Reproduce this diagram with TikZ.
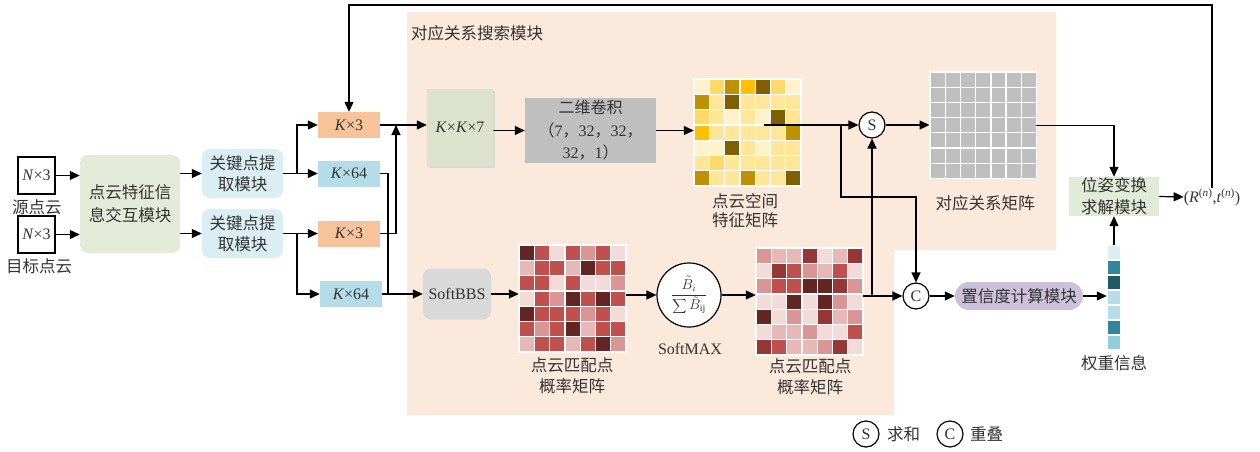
\documentclass[tikz,border=0pt]{standalone}
\usepackage{fontspec}
\setmainfont{Liberation Serif}
\newfontfamily\cjk{Noto Sans CJK SC}
\usetikzlibrary{arrows.meta,calc}
\definecolor{peach}{HTML}{FBE9DC}
\definecolor{fusegreen}{HTML}{E4EBD8}
\definecolor{kpblue}{HTML}{DBEEF4}
\definecolor{korange}{HTML}{F7C39A}
\definecolor{kblue}{HTML}{B4DDE8}
\definecolor{kkgreen}{HTML}{DCE2CB}
\definecolor{convgray}{HTML}{BFBFBF}
\definecolor{sbbsgray}{HTML}{D9D9D9}
\definecolor{posegreen}{HTML}{E2EBD7}
\definecolor{conflav}{HTML}{CCC0DA}
\definecolor{Y0}{HTML}{FFF2CC}
\definecolor{Y1}{HTML}{FFE699}
\definecolor{Y2}{HTML}{FFD966}
\definecolor{Y3}{HTML}{FFC000}
\definecolor{Y4}{HTML}{BF9000}
\definecolor{Y5}{HTML}{7F6000}
\definecolor{R0}{HTML}{F2DCDB}
\definecolor{R1}{HTML}{E6B9B8}
\definecolor{R2}{HTML}{D99694}
\definecolor{R3}{HTML}{C0504D}
\definecolor{R4}{HTML}{953735}
\definecolor{R5}{HTML}{632523}
\definecolor{G0}{HTML}{BFBFBF}
\definecolor{W0}{HTML}{DAEEF3}
\definecolor{W1}{HTML}{31859C}
\definecolor{W2}{HTML}{215968}
\definecolor{W3}{HTML}{B7DEE8}
\definecolor{W4}{HTML}{92CDDC}
\definecolor{txt}{HTML}{333333}
\newcommand\zh[1]{{\cjk #1}}
\newcommand\cellmat[4]{%
  \foreach \cc [count=\i from 0] in {#4} {
    \pgfmathtruncatemacro\rr{div(\i,7)}
    \pgfmathtruncatemacro\kk{mod(\i,7)}
    \path[fill=\cc,draw=white,line width=1.3pt] ({#1+\kk*#3},{#2+\rr*#3}) rectangle ++(#3,#3);
  }}
\begin{document}
\begin{tikzpicture}[x=1pt,y=-1pt,
  every node/.style={font=\fontsize{16}{21}\selectfont, inner sep=0pt, text=txt},
  arr/.style={-{Triangle[length=10pt,width=9pt]}, line width=1.2pt},
  ln/.style={line width=1.2pt},
  matbox/.style={rectangle, minimum size=107pt},
  circ/.style={circle, draw, line width=1.2pt, minimum size=26pt, fill=white}]
\useasboundingbox (0,0) rectangle (1260,452);
% background region
\fill[peach] (407,12) -- (1056,12) -- (1056,250) -- (894,250) -- (894,415) -- (407,415) -- cycle;
\node[anchor=west, font=\fontsize{16.5}{20}\cjk] (title) at (411,33) {对应关系搜索模块};

% inputs
\node[rectangle, draw, line width=1.1pt, minimum size=37pt, fill=white] (src) at (36.5,175.5) {\textit{N}×3};
\node[rectangle, draw, line width=1.1pt, minimum size=37pt, fill=white] (tgt) at (36.5,234.5) {\textit{N}×3};
\node[font=\fontsize{16.5}{20}\cjk] (srcl) at (37,207) {源点云};
\node[font=\fontsize{16.5}{20}\cjk] (tgtl) at (39,266) {目标点云};

\node[rectangle, rounded corners=8pt, fill=fusegreen, minimum width=100pt, minimum height=98pt, align=center, font=\fontsize{16.5}{23}\cjk] (fuse) at (130,204) {点云特征信\\息交互模块};
\node[rectangle, rounded corners=8pt, fill=kpblue, minimum width=81pt, minimum height=49pt, align=center, font=\fontsize{16.5}{21}\cjk] (kp1) at (242.5,173.5) {关键点提\\取模块};
\node[rectangle, rounded corners=8pt, fill=kpblue, minimum width=81pt, minimum height=49pt, align=center, font=\fontsize{16.5}{21}\cjk] (kp2) at (242.5,233.5) {关键点提\\取模块};

\node[rectangle, fill=korange, minimum width=62pt, minimum height=26pt] (k3a) at (349,125) {\textit{K}×3};
\node[rectangle, fill=kblue, minimum width=62pt, minimum height=26pt] (k64a) at (349,173.5) {\textit{K}×64};
\node[rectangle, fill=korange, minimum width=62pt, minimum height=26pt] (k3b) at (349,233.5) {\textit{K}×3};
\node[rectangle, fill=kblue, minimum width=62pt, minimum height=26pt] (k64b) at (351,294) {\textit{K}×64};

\draw[arr] (src.east) -- (src.east -| fuse.west);
\draw[arr] (tgt.east) -- (tgt.east -| fuse.west);
\draw[arr] (fuse.east |- kp1) -- (kp1.west);
\draw[arr] (fuse.east |- kp2) -- (kp2.west);
\coordinate (j1) at (297,173.5);
\coordinate (j2) at (297,233.5);
\draw[arr] (kp1.east) -- (k64a.west);
\draw[arr] (j1) |- (k3a.west);
\draw[arr] (kp2.east) -- (k3b.west);
\draw[arr] (j2) |- (k64b.west);

% K x K x 7
\fill[gray!30] (429,91) rectangle (495,168);
\node[rectangle, fill=kkgreen, minimum width=66pt, minimum height=77pt] (kk7) at (460,127.5) {\textit{K}×\textit{K}×7};
\node[rectangle, fill=convgray, minimum width=131pt, minimum height=65pt, align=center, font=\fontsize{16}{22.5}\selectfont] (conv) at (590.5,130.5) {\zh{二维卷积}\\\zh{（}7\zh{，}32\zh{，}32\zh{，}\\32\zh{，}1\zh{）}};

\coordinate (m1) at (396,125);
\coordinate (m2) at (388,294);
\draw[arr] (k3a.east) -- (k3a.east -| kk7.west);
\draw[arr] (k3b.east) -| (m1);
\draw[ln] (k64a.east) -| (m2);

% SoftBBS
\node[rectangle, rounded corners=8pt, fill=sbbsgray, minimum width=68pt, minimum height=51pt] (sbbs) at (457,294) {SoftBBS};
\draw[arr] (k64b.east) -- (sbbs.west);

% matrices
\node[matbox] (ymat) at (747.5,132.5) {};
\cellmat{694}{79}{15.29}{Y0,Y2,Y4,Y3,Y5,Y2,Y0, Y4,Y1,Y5,Y1,Y1,Y1,Y1, Y2,Y1,Y0,Y1,Y0,Y5,Y1, Y3,Y1,Y1,Y1,Y1,Y1,Y4, Y0,Y0,Y5,Y1,Y0,Y1,Y1, Y1,Y2,Y1,Y1,Y1,Y1,Y1, Y4,Y1,Y1,Y4,Y1,Y1,Y5}
\node[align=center, font=\fontsize{16.5}{19}\cjk] (ymatl) at (745,211) {点云空间\\特征矩阵};

\node[matbox] (rm1) at (572.5,298.5) {};
\cellmat{519}{245}{15.29}{R5,R3,R0,R3,R2,R3,R0, R1,R3,R3,R1,R5,R3,R3, R3,R3,R0,R3,R0,R0,R2, R0,R3,R2,R5,R3,R5,R3, R5,R3,R3,R3,R2,R3,R0, R3,R2,R3,R5,R1,R3,R3, R1,R3,R3,R1,R3,R5,R2}
\node[align=center, font=\fontsize{16.5}{21}\cjk] (rm1l) at (572,376) {点云匹配点\\概率矩阵};

\node[matbox] (rm2) at (809.5,301.5) {};
\cellmat{756}{248}{15.29}{R2,R1,R1,R4,R0,R1,R4, R0,R4,R3,R2,R1,R3,R0, R2,R3,R3,R5,R5,R4,R2, R0,R0,R5,R0,R5,R2,R0, R5,R0,R2,R0,R4,R1,R2, R0,R1,R1,R2,R0,R0,R3, R4,R3,R1,R1,R2,R4,R0}
\node[align=center, font=\fontsize{16.5}{21}\cjk] (rm2l) at (810,377) {点云匹配点\\概率矩阵};

\node[matbox, minimum size=106.5pt] (gmat) at (983,125.5) {};
\cellmat{930}{72}{15.21}{G0,G0,G0,G0,G0,G0,G0, G0,G0,G0,G0,G0,G0,G0, G0,G0,G0,G0,G0,G0,G0, G0,G0,G0,G0,G0,G0,G0, G0,G0,G0,G0,G0,G0,G0, G0,G0,G0,G0,G0,G0,G0, G0,G0,G0,G0,G0,G0,G0}
\node[font=\fontsize{16.5}{20}\cjk] (gmatl) at (985,203) {对应关系矩阵};

% softmax
\node[circle, draw, line width=1.2pt, fill=white, minimum size=64pt] (sm) at (689,295) {\fontsize{14}{16}\selectfont$\displaystyle\frac{\tilde{B}_i\vphantom{\sum}}{\displaystyle\sum\tilde{B}_{\mathrm{ij}}}$};
\node (sml) at (690,349) {SoftMAX};

\draw[arr] (conv.east) -- (conv.east -| ymat.west);
\draw[arr] (kk7.east |- conv) -- (conv.west);
\draw[arr] (sbbs.east) -- (sbbs.east -| rm1.west);
\draw[arr] (rm1.east |- sm) -- (sm.west);
\draw[arr] (sm.east) -- (sm.east -| rm2.west);

% S and C
\node[circ] (S) at (872,125) {S};
\node[circ] (C) at (916,296) {C};
\coordinate (yo) at (764,125);
\coordinate (b1) at (841,125);
\coordinate (b2) at (841,197);
\coordinate (b3) at (872,296);
\draw[arr] (yo) -- (S.west);
\draw[arr] (b1) -- (b2) -| (C.north);
\draw[arr] (rm2.east |- C) -- (C.west);
\draw[arr] (b3) -- (S.south);
\draw[arr] (S.east) -- (S.east -| gmat.west);

% pose
\node[rectangle, fill=posegreen, minimum width=90pt, minimum height=39pt, align=center, font=\fontsize{16.5}{22}\cjk] (pose) at (1114,196.5) {位姿变换\\求解模块};
\node (rt) at (1212,197) {(\textit{R}\textsuperscript{(\textit{n})},\textit{t}\textsuperscript{(\textit{n})})};
\draw[arr] (gmat.east) -| (pose.north);
\draw[arr] (pose.east) -- (rt.west);
\coordinate (top) at (1212,5);
\draw[arr] (rt.north) -- (top) -| (k3a.north);

% confidence
\node[rectangle, rounded corners=14pt, fill=conflav, minimum width=128pt, minimum height=28pt, font=\fontsize{16.5}{20}\cjk] (conf) at (1019,296) {置信度计算模块};
\node[rectangle, minimum width=14pt, minimum height=105pt] (wcol) at (1114,297.5) {};
\foreach \cc [count=\i from 0] in {W0,W1,W2,W3,W3,W1,W4} {
  \path[fill=\cc, draw=white, line width=1.3pt] (1107,{245+\i*15}) rectangle ++(14,15);
}
\node[font=\fontsize{16.5}{20}\cjk] (wl) at (1114,363) {权重信息};
\draw[arr] (C.east) -- (conf.west);
\draw[arr] (conf.east) -- (conf.east -| wcol.west);
\draw[arr] (wcol.north) -- (pose.south);

% legend
\node[circ] (Sleg) at (866,434) {S};
\node[anchor=west, font=\fontsize{16.5}{20}\cjk] (Slegl) at (887,434) {求和};
\node[circ] (Cleg) at (950,434) {C};
\node[anchor=west, font=\fontsize{16.5}{20}\cjk] (Clegl) at (970,434) {重叠};
\end{tikzpicture}
\end{document}
